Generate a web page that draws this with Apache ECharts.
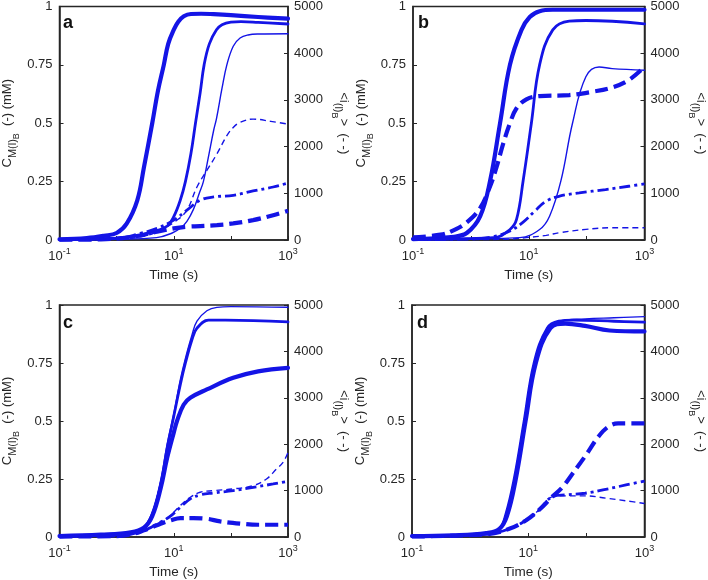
<!DOCTYPE html>
<html>
<head>
<meta charset="utf-8">
<script src="https://cdn.jsdelivr.net/npm/echarts@6/dist/echarts.min.js"></script>
<style>html,body{margin:0;padding:0;background:#fff;}#c{width:708px;height:580px;}</style>
</head>
<body>
<div id="c"></div>
<script>
// ---- Data: [time (s), value]; solid curves on left axis (mM), dashed curves on right axis ----
// Panel a
const a_solidThick = [[0.1,0.003],[0.3,0.008],[0.6,0.018],[1,0.03],[1.5,0.07],[2.3,0.17],[3,0.31],[4.2,0.5],[5.3,0.64],[6.7,0.75],[8,0.84],[10,0.9],[12,0.935],[15,0.958],[20,0.968],[30,0.969],[50,0.967],[100,0.963],[300,0.955],[1000,0.948]];
const a_solidMed = [[0.1,0.002],[0.5,0.004],[1,0.008],[2.6,0.02],[5,0.04],[7.7,0.06],[10,0.1],[13,0.17],[16,0.25],[20,0.37],[24,0.5],[29,0.63],[34,0.75],[42,0.84],[56,0.9],[70,0.922],[100,0.933],[150,0.935],[300,0.932],[1000,0.925]];
const a_solidThin = [[0.1,0.001],[1,0.003],[5,0.01],[9.4,0.03],[13,0.05],[17,0.08],[22,0.13],[28,0.2],[33,0.25],[40,0.35],[50,0.47],[56,0.52],[70,0.65],[85,0.75],[110,0.83],[145,0.865],[200,0.878],[300,0.882],[1000,0.883]];
const a_dashThin = [[0.1,5],[1,20],[3,80],[5.9,213],[11.4,426],[17,638],[25.5,1135],[38,1490],[57,1844],[85,2234],[110,2411],[145,2518],[245,2589],[500,2540],[1000,2482]];
const a_dashMed = [[0.1,5],[1.03,35],[2.6,142],[5.1,248],[10,426],[17,638],[29,851],[50,922],[110,957],[245,1050],[550,1135],[1000,1220]];
const a_dashThick = [[0.1,5],[0.53,14],[2,71],[5.1,177],[10,248],[17,284],[29,298],[57,319],[110,355],[245,426],[550,532],[1000,624]];
// Panel b
const b_solidThick = [[0.1,0.004],[0.51,0.014],[0.86,0.031],[1.45,0.102],[2.15,0.254],[3.19,0.5],[4.73,0.75],[7.5,0.9],[10.4,0.955],[15.4,0.98],[26,0.986],[1000,0.986]];
const b_solidMed = [[0.1,0.003],[2.45,0.01],[4.73,0.045],[6.15,0.088],[8,0.254],[11.1,0.5],[15.4,0.75],[26,0.9],[50,0.9375],[97,0.94],[1000,0.926]];
const b_solidThin = [[0.1,0.001],[7,0.01],[15.4,0.045],[22.9,0.102],[36,0.254],[57,0.5],[97,0.699],[164,0.741],[276,0.734],[1000,0.727]];
const b_dashThick = [[0.1,57],[0.3,114],[0.51,213],[0.86,384],[1.45,689],[2.15,1151],[2.8,1577],[3.64,2074],[4.73,2500],[6.15,2820],[9.1,3011],[15.4,3082],[50,3104],[126,3175],[276,3267],[532,3423],[1000,3707]];
const b_dashMed = [[0.1,7],[0.98,21],[2.45,71],[4.73,192],[8,384],[12.7,618],[20,831],[34,938],[74.5,1009],[213,1080],[532,1151],[1000,1200]];
const b_dashThin = [[0.1,7],[3.64,14],[9.1,50],[20,99],[34,156],[97,227],[276,263],[1000,263]];
// Panel c
const c_solidThick = [[0.1,0.004],[0.53,0.01],[1.76,0.02],[3,0.04],[4.2,0.09],[5.9,0.21],[7.65,0.34],[10,0.45],[11.4,0.5],[14.9,0.57],[19.5,0.6],[38,0.636],[110,0.686],[300,0.714],[1000,0.729]];
const c_solidMed = [[0.1,0.004],[0.53,0.01],[1.76,0.02],[3,0.04],[4.2,0.1],[5.9,0.23],[7.65,0.38],[10,0.52],[13.1,0.66],[16,0.75],[20.8,0.85],[25.5,0.9],[40.6,0.935],[80,0.935],[1000,0.927]];
const c_solidThin = [[0.1,0.004],[0.53,0.01],[1.76,0.02],[3,0.04],[4.2,0.1],[5.9,0.24],[7.65,0.4],[10,0.53],[13.1,0.68],[16,0.77],[20.8,0.87],[25.5,0.93],[38,0.975],[57,0.99],[100,0.993],[1000,0.99]];
const c_dashThin = [[0.1,10],[1,20],[3,143],[5.9,321],[8.75,464],[13.1,679],[19.5,857],[29,964],[50,1000],[110,1036],[246,1107],[420,1250],[627,1464],[818,1607],[1000,1821]];
const c_dashMed = [[0.1,10],[1,20],[3,143],[5.9,321],[8.75,450],[13.1,643],[19.5,821],[29,907],[50,950],[110,1000],[246,1071],[550,1143],[1000,1200]];
const c_dashThick = [[0.1,10],[1,20],[2,71],[3,143],[4.2,214],[5.9,286],[8.75,357],[13.1,407],[22,407],[38,393],[65,336],[150,286],[300,264],[1000,264]];
// Panel d
const d_solidThick = [[0.1,0.004],[0.51,0.007],[1.89,0.017],[3.19,0.035],[4.3,0.09],[6,0.24],[9,0.5],[13.5,0.75],[24,0.9],[43.5,0.92],[95,0.91],[250,0.89],[1000,0.886]];
const d_solidMed = [[0.1,0.004],[0.51,0.007],[1.89,0.017],[3.19,0.035],[4.14,0.1],[5.74,0.251],[8.5,0.5],[12.6,0.75],[21.2,0.9],[33.5,0.93],[60,0.935],[300,0.93],[1000,0.926]];
const d_solidThin = [[0.1,0.004],[0.51,0.007],[1.89,0.017],[3.19,0.035],[4.14,0.1],[5.74,0.251],[8.5,0.5],[12.6,0.75],[21.2,0.9],[33.5,0.93],[95,0.94],[300,0.945],[1000,0.95]];
const d_dashThick = [[0.1,14],[1.89,57],[4.72,177],[9.06,355],[15.3,582],[25.8,865],[38.2,1064],[56.5,1348],[95,1738],[161,2163],[238,2376],[352,2447],[1000,2447]];
const d_dashMed = [[0.1,14],[1.89,57],[4.72,177],[9.06,355],[15.3,582],[25.8,865],[43.5,908],[95,943],[215,1028],[480,1121],[1000,1206]];
const d_dashThin = [[0.1,14],[1.89,57],[4.72,177],[9.06,355],[15.3,582],[25.8,865],[43.5,887],[95,887],[215,837],[480,780],[1000,723]];

const panelLetters = ['a','b','c','d'];
const leftTicks = [0, 0.25, 0.5, 0.75, 1];
const rightTicks = [0, 1000, 2000, 3000, 4000, 5000];
const xTickLabels = {'-1':'10{s|-1}', '1':'10{s|1}', '3':'10{s|3}'};

const panels = [
  {solid:[a_solidThick,a_solidMed,a_solidThin], dash:[a_dashThick,a_dashMed,a_dashThin]},
  {solid:[b_solidThick,b_solidMed,b_solidThin], dash:[b_dashThick,b_dashMed,b_dashThin]},
  {solid:[c_solidThick,c_solidMed,c_solidThin], dash:[c_dashThick,c_dashMed,c_dashThin]},
  {solid:[d_solidThick,d_solidMed,d_solidThin], dash:[d_dashThick,d_dashMed,d_dashThin]}
];

// ---- Layout / styles ----
const grids = [
  {left:58, top:5, width:230, height:235},
  {left:413, top:5, width:234, height:235},
  {left:58, top:305, width:230, height:234},
  {left:412, top:305, width:235, height:235}
];
const BLUE = '#1414e6';
const AX = '#262626';
const FONT = 'Liberation Sans, Arial, Helvetica, sans-serif';
const widths = [4.2, 2.8, 1.4];
const dashTypes = [[13,6],[11,4,3,4],[6,4]];

const option = {
  animation:false,
  backgroundColor:'#fff',
  textStyle:{fontFamily:FONT},
  grid: grids.map(g => Object.assign({show:true, borderColor:AX, borderWidth:1.5, backgroundColor:'transparent', containLabel:false}, g)),
  xAxis: [], yAxis: [], series: [], graphic: []
};

const nameRich = {
  m:{fontSize:13, color:AX, lineHeight:24, verticalAlign:'middle', fontFamily:FONT},
  s:{fontSize:11, color:AX, verticalAlign:'bottom', lineHeight:11, padding:[0,0,1,0], fontFamily:FONT},
  ss:{fontSize:9, color:AX, verticalAlign:'bottom', lineHeight:9, padding:[0,0,-2,0], fontFamily:FONT}
};

grids.forEach((g, i) => {
  option.xAxis.push({
    type:'log', logBase:10, min:0.1, max:1000, gridIndex:i,
    axisLine:{show:true, lineStyle:{color:AX, width:1.5}},
    axisTick:{show:true, inside:true, length:4, lineStyle:{color:AX}},
    splitLine:{show:false},
    axisLabel:{
      color:AX, fontSize:13, fontFamily:FONT, margin:7,
      formatter: v => { const e = Math.round(Math.log10(v)); return xTickLabels[String(e)] || ''; },
      rich:{s:{fontSize:9, verticalAlign:'top', padding:[0,0,9,0], color:AX, fontFamily:FONT}}
    },
    name:'Time (s)', nameLocation:'middle', nameGap:28,
    nameTextStyle:{color:AX, fontSize:13.5, fontFamily:FONT}
  });
  option.yAxis.push({
    type:'value', min:0, max:1, interval:0.25, gridIndex:i, position:'left',
    axisLine:{show:true, lineStyle:{color:AX, width:1.5}},
    axisTick:{show:true, inside:true, length:4, lineStyle:{color:AX}},
    splitLine:{show:false},
    axisLabel:{color:AX, fontSize:13, fontFamily:FONT, margin:7,
      formatter: v => leftTicks.indexOf(v) >= 0 ? String(v) : ''},
    name:'{m|C}{s|M(l)}{ss|B}{m|  (-) (mM)}', nameLocation:'middle', nameGap:40, nameRotate:90,
    nameTextStyle:{color:AX, fontFamily:FONT, rich:nameRich}
  });
  option.yAxis.push({
    type:'value', min:0, max:5000, interval:1000, gridIndex:i, position:'right',
    axisLine:{show:true, lineStyle:{color:AX, width:1.5}},
    axisTick:{show:true, inside:true, length:4, lineStyle:{color:AX}},
    splitLine:{show:false},
    axisLabel:{color:AX, fontSize:13, fontFamily:FONT, margin:6,
      formatter: v => rightTicks.indexOf(v) >= 0 ? String(v) : ''},
    name:'{m|<i}{s|(l)}{ss|B}{m|>  (- -)}', nameLocation:'middle', nameGap:44, nameRotate:-90,
    nameTextStyle:{color:AX, fontFamily:FONT, rich:nameRich}
  });

  const p = panels[i];
  p.solid.forEach((d, k) => option.series.push({
    type:'line', xAxisIndex:i, yAxisIndex:2*i, data:d, showSymbol:false, smooth:0.4,
    lineStyle:{color:BLUE, width:widths[k], type:'solid', cap:'round', join:'round'}
  }));
  p.dash.forEach((d, k) => option.series.push({
    type:'line', xAxisIndex:i, yAxisIndex:2*i+1, data:d, showSymbol:false, smooth:0.4,
    lineStyle:{color:BLUE, width:widths[k], type:dashTypes[k]}
  }));

  option.graphic.push({
    type:'text', left:g.left + 5, top:g.top + 9, z:100,
    style:{text:panelLetters[i], font:'bold 18px ' + FONT, fill:'#111'}
  });
});

const chart = echarts.init(document.getElementById('c'), null, {renderer:'canvas'});
chart.setOption(option);
</script>
</body>
</html>
